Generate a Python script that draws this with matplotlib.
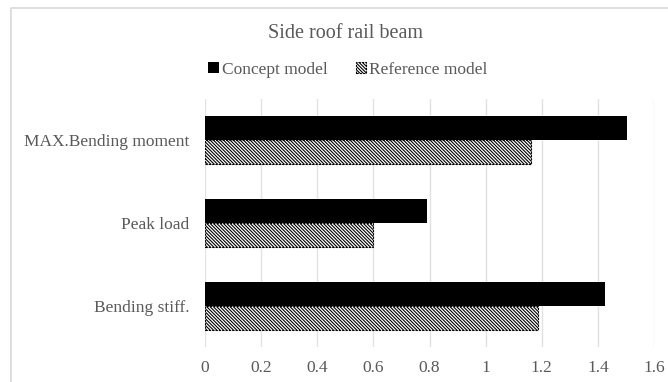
import numpy as np
import matplotlib
matplotlib.use('Agg')
import matplotlib.pyplot as plt
from matplotlib.patches import Rectangle

# data, bottom to top
categories = ['Bending stiff.', 'Peak load', 'MAX.Bending moment']
concept = [1.425, 0.79, 1.505]
reference = [1.185, 0.60, 1.16]
xticks = [0, 0.2, 0.4, 0.6, 0.8, 1.0, 1.2, 1.4, 1.6]
xtick_labels = ['0', '0.2', '0.4', '0.6', '0.8', '1', '1.2', '1.4', '1.6']

plt.rcParams['font.family'] = ['Liberation Serif', 'DejaVu Serif']
plt.rcParams['hatch.linewidth'] = 0.8
grey = '#595959'

fig = plt.figure(figsize=(6.68, 3.82), dpi=100)
fig.patches.append(Rectangle((11 / 668, -0.1), 1.2, 1 - 8 / 382 + 0.1,
                             transform=fig.transFigure, fill=False,
                             edgecolor='#d9d9d9', linewidth=1.2))

ax = fig.add_axes([205 / 668, 1 - 347 / 382, (654 - 205) / 668, (347 - 99) / 382])

y = np.arange(len(categories))
h = 0.29
ax.barh(y + h / 2, concept, height=h, color='black', label='Concept model', zorder=3)
ax.barh(y - h / 2, reference, height=h, color='white', edgecolor='black',
        hatch='\\' * 10, linewidth=0.8, linestyle=(0, (2, 1)),
        label='Reference model', zorder=3)

ax.set_xlim(0, 1.6)
ax.set_ylim(-0.5, len(categories) - 0.5)
ax.set_xticks(xticks)
ax.set_xticklabels(xtick_labels)
ax.set_yticks(y)
ax.set_yticklabels(categories)
ax.tick_params(axis='both', length=0, labelsize=12.5, colors=grey)
ax.tick_params(axis='x', pad=9)
ax.tick_params(axis='y', pad=11)
ax.grid(axis='x', color='#e3e3e3', linewidth=1, zorder=0)
for s in ax.spines.values():
    s.set_visible(False)

fig.text(346 / 668, 1 - 33 / 382, 'Side roof rail beam', ha='center', va='center',
         fontsize=14.5, color=grey)
ax.legend(loc='center', bbox_to_anchor=(348 / 668, 1 - 70 / 382),
          bbox_transform=fig.transFigure, ncol=2, frameon=False,
          fontsize=12.5, labelcolor=grey, handlelength=0.6, handleheight=0.6,
          handletextpad=0.2, columnspacing=1.6)

fig.savefig('out.png', dpi=100)
